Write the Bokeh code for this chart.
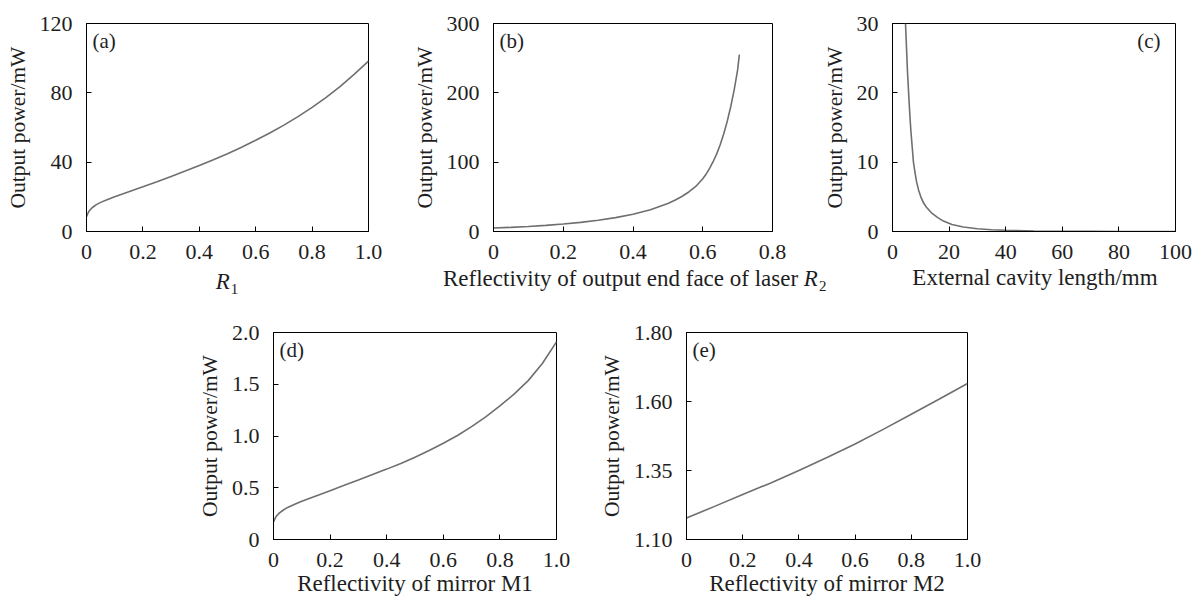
from bokeh.plotting import figure
from bokeh.models import Range1d, FixedTicker, Label, Spacer, Div
from bokeh.layouts import column, row
from bokeh.embed import file_html
from bokeh.resources import INLINE

# ---------------- data ----------------
a_x = [0, 0.005, 0.01, 0.02, 0.035, 0.05, 0.075, 0.1, 0.15, 0.2, 0.25, 0.3, 0.35, 0.4,
       0.45, 0.5, 0.55, 0.6, 0.65, 0.7, 0.75, 0.8, 0.85, 0.9, 0.95, 1.0]
a_y = [8.5, 10.5, 12, 13.7, 15.5, 16.8, 18.5, 20, 22.9, 25.8, 28.75, 31.75, 34.85, 38.05,
       41.4, 44.9, 48.65, 52.6, 56.85, 61.4, 66.3, 71.65, 77.4, 83.75, 90.75, 98.35]

b_x = [0, 0.05, 0.1, 0.15, 0.2, 0.25, 0.3, 0.35, 0.4, 0.45, 0.5, 0.52, 0.54, 0.56, 0.58,
       0.6, 0.61, 0.62, 0.63, 0.64, 0.65, 0.66, 0.67, 0.68, 0.69, 0.70, 0.705]
b_y = [5, 6, 7.3, 8.9, 10.8, 13.2, 16.2, 20, 25, 31.5, 40.5, 45, 50.5, 57, 65,
       76, 83, 91.5, 101, 112, 125, 140.5, 158.5, 179.5, 204, 233, 255]

c_x = [4.6, 5, 5.3, 5.7, 6.1, 6.5, 7.0, 7.4, 8.0, 8.5, 9.2, 10, 11, 12, 14, 16, 18, 21,
       25, 30, 35, 40, 50, 60, 70, 80, 90, 100]
c_y = [30, 26, 23, 20, 17, 14.5, 12, 10, 8.4, 7.2, 6.0, 5, 4.1, 3.5, 2.6, 2.0, 1.5, 1.0,
       0.65, 0.4, 0.26, 0.17, 0.08, 0.04, 0.02, 0.01, 0.006, 0.003]

d_x = a_x
d_y = [0.17, 0.2, 0.225, 0.255, 0.285, 0.31, 0.34, 0.37, 0.421, 0.472, 0.523, 0.575, 0.627,
       0.68, 0.735, 0.795, 0.86, 0.93, 1.005, 1.09, 1.185, 1.29, 1.405, 1.535, 1.70, 1.91]

e_x = [0, 0.1, 0.2, 0.3, 0.4, 0.5, 0.6, 0.7, 0.8, 0.9, 1.0]
e_y = [1.178, 1.22, 1.263, 1.305, 1.35, 1.397, 1.446, 1.499, 1.554, 1.609, 1.665]

unit_ticks = [0, 0.2, 0.4, 0.6, 0.8, 1.0]
unit_labels = ["0", "0.2", "0.4", "0.6", "0.8", "1.0"]
b_xticks = [0, 0.2, 0.4, 0.6, 0.8]
b_xlabels = ["0", "0.2", "0.4", "0.6", "0.8"]
c_xticks = [0, 20, 40, 60, 80, 100]
c_xlabels = ["0", "20", "40", "60", "80", "100"]
a_yticks = [0, 40, 80, 120]
a_ylabels = ["0", "40", "80", "120"]
b_yticks = [0, 100, 200, 300]
b_ylabels = ["0", "100", "200", "300"]
c_yticks = [0, 10, 20, 30]
c_ylabels = ["0", "10", "20", "30"]
d_yticks = [0, 0.5, 1.0, 1.5, 2.0]
d_ylabels = ["0", "0.5", "1.0", "1.5", "2.0"]
e_yticks = [1.10, 1.35, 1.60, 1.85]
e_ylabels = ["1.10", "1.35", "1.60", "1.80"]

y_title = "Output power/mW"
a_xtitle_sym, a_xtitle_sub = "R", "1"
b_xtitle_main = "Reflectivity of output end face of laser"
b_xtitle_sym, b_xtitle_sub = "R", "2"
c_xtitle = "External cavity length/mm"
d_xtitle = "Reflectivity of mirror M1"
e_xtitle = "Reflectivity of mirror M2"

FONT = "Liberation Serif"
TXT = "#1e1e1e"
LINE = "#6f6f6f"


def make_fig(width, height, xr, yr, xt, xl, yt, yl, bl, br, bt, bb,
             xtitle=None, xlab_standoff=0):
    p = figure(width=width, height=height, x_range=Range1d(*xr), y_range=Range1d(*yr),
               output_backend="svg", toolbar_location=None,
               min_border_left=bl, min_border_right=br, min_border_top=bt, min_border_bottom=bb,
               background_fill_color="white", border_fill_color="white")
    p.grid.visible = False
    p.outline_line_color = "black"
    p.outline_line_width = 1
    p.outline_line_alpha = 1
    for ax in (p.xaxis[0], p.yaxis[0]):
        ax.major_tick_in = 5
        ax.major_tick_out = 0
        ax.minor_tick_line_color = None
        ax.axis_line_color = "black"
        ax.major_tick_line_color = "black"
        ax.major_label_text_font = FONT
        ax.major_label_text_font_size = "22px"
        ax.major_label_text_color = TXT
    p.xaxis[0].major_label_standoff = 13
    p.yaxis[0].major_label_standoff = 14
    p.xaxis[0].ticker = FixedTicker(ticks=xt)
    p.xaxis[0].major_label_overrides = dict(zip(xt, xl))
    p.yaxis[0].ticker = FixedTicker(ticks=yt)
    p.yaxis[0].major_label_overrides = dict(zip(yt, yl))
    p.yaxis[0].axis_label = y_title
    p.yaxis[0].axis_label_text_font = FONT
    p.yaxis[0].axis_label_text_font_size = "21.5px"
    p.yaxis[0].axis_label_text_font_style = "normal"
    p.yaxis[0].axis_label_text_color = TXT
    p.yaxis[0].axis_label_standoff = 7
    if xtitle is not None:
        p.xaxis[0].axis_label = xtitle
        p.xaxis[0].axis_label_text_font = FONT
        p.xaxis[0].axis_label_text_font_size = "23px"
        p.xaxis[0].axis_label_text_font_style = "normal"
        p.xaxis[0].axis_label_text_color = TXT
        p.xaxis[0].axis_label_standoff = xlab_standoff
    return p


def add_tag(p, x, y, text, x_off, align="left"):
    p.add_layout(Label(x=x, y=y, x_offset=x_off, y_offset=-5, text=text,
                       text_font=FONT, text_font_size="21px", text_color=TXT,
                       text_align=align, text_baseline="top"))


H1 = 296
F1 = 269          # height of the row-1 figures; their x titles sit in a Div below
H2 = 598 - H1

# (a)
pa = make_fig(409, F1, (0, 1), (0, 120), unit_ticks, unit_labels, a_yticks, a_ylabels,
              86, 41, 23, F1 - 23 - 208)
pa.line(a_x, a_y, line_color=LINE, line_width=1.6)
add_tag(pa, 0, 120, "(a)", 6)

# (b)
pb = make_fig(403, F1, (0, 0.8), (0, 300), b_xticks, b_xlabels, b_yticks, b_ylabels,
              80, 40, 23, F1 - 23 - 208)
pb.line(b_x, b_y, line_color=LINE, line_width=1.6)
add_tag(pb, 0, 300, "(b)", 6)

# (c)
pc = make_fig(381, F1, (0, 100), (0, 30), c_xticks, c_xlabels, c_yticks, c_ylabels,
              80, 18, 23, F1 - 23 - 208)
pc.line(c_x, c_y, line_color=LINE, line_width=1.6)
add_tag(pc, 100, 30, "(c)", -15, align="right")

SPAN = ("position:absolute; white-space:nowrap; font-family:'Liberation Serif';"
        " font-size:23px; line-height:20px; color:%s;" % TXT)
SUB = "font-size:15px; position:relative; top:5px; margin-left:1px"
row1_html = (
    '<div style="position:relative; width:1193px; height:%dpx;">' % (H1 - F1)
    + '<div style="%s left:177px; width:100px; top:3px; text-align:center;">'
      '<i>%s</i><span style="%s">%s</span></div>' % (SPAN, a_xtitle_sym, SUB, a_xtitle_sub)
    + '<div style="%s left:443px; top:0px;">%s <i>%s</i><span style="%s">%s</span></div>'
      % (SPAN, b_xtitle_main, b_xtitle_sym, SUB, b_xtitle_sub)
    + '<div style="%s left:885px; width:300px; top:-1px; text-align:center;">%s</div>'
      % (SPAN, c_xtitle)
    + '</div>'
)
div_row1 = Div(text=row1_html, width=1193, height=H1 - F1, margin=0)

TOP2 = 332 - H1
BOT2 = H2 - TOP2 - 209

# (d)
pd = make_fig(403, H2, (0, 1), (0, 2.0), unit_ticks, unit_labels, d_yticks, d_ylabels,
              80, 40, TOP2, BOT2, xtitle=d_xtitle, xlab_standoff=1)
pd.line(d_x, d_y, line_color=LINE, line_width=1.6)
add_tag(pd, 0, 2.0, "(d)", 6)

# (e)
pe = make_fig(411, H2, (0, 1), (1.10, 1.85), unit_ticks, unit_labels, e_yticks, e_ylabels,
              88, 40, TOP2, BOT2, xtitle=e_xtitle, xlab_standoff=1)
pe.line(e_x, e_y, line_color=LINE, line_width=1.6)
add_tag(pe, 0, 1.85, "(e)", 6)

layout = column(row(pa, pb, pc), div_row1,
                row(Spacer(width=193, height=H2), pd, pe))

open("out.html", "w").write(file_html(layout, INLINE))
